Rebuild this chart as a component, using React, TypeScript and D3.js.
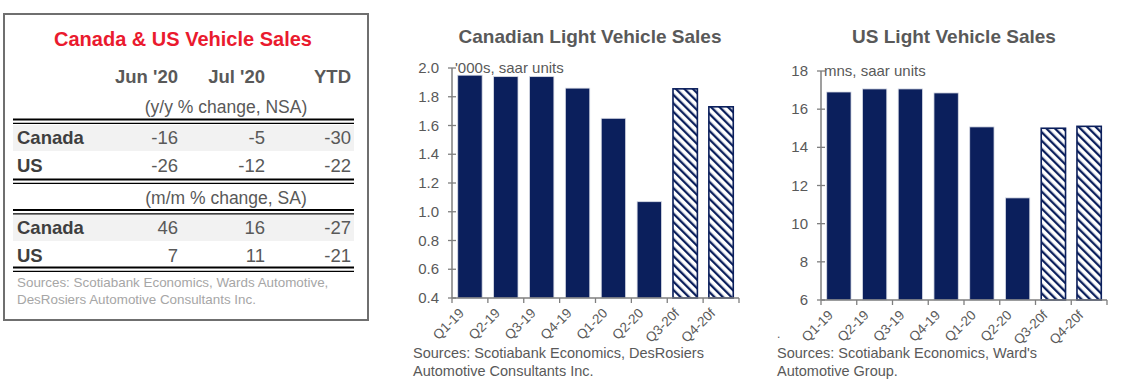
import React from "react";
import * as d3 from "d3";

// ---------- DATA ----------
const quarters = ["Q1-19", "Q2-19", "Q3-19", "Q4-19", "Q1-20", "Q2-20", "Q3-20f", "Q4-20f"];
const forecastFlags = [false, false, false, false, false, false, true, true];
const canadaSales = [1.95, 1.94, 1.94, 1.86, 1.65, 1.07, 1.855, 1.73];
const usSales = [16.9, 17.06, 17.06, 16.85, 15.07, 11.35, 15.0, 15.1];
const canadaTicks = [0.4, 0.6, 0.8, 1.0, 1.2, 1.4, 1.6, 1.8, 2.0];
const usTicks = [6, 8, 10, 12, 14, 16, 18];

const tableColumns = ["Jun '20", "Jul '20", "YTD"];
const tableRegions = ["Canada", "US"];
const yoyValues = [
  [-16, -5, -30],
  [-26, -12, -22],
];
const momValues = [
  [46, 16, -27],
  [7, 11, -21],
];

const NAVY = "#0b1f5c";
const GRAY = "#595959";
const FONT = "'Liberation Sans', Arial, sans-serif";

type ChartProps = {
  id: string;
  title: string;
  titleX: number;
  unit: string;
  values: number[];
  ticks: number[];
  domain: [number, number];
  x0: number;
  x1: number;
  yTop: number;
  yBot: number;
  tickFmt: (v: number) => string;
  sources: string[];
  srcX: number;
  dot?: boolean;
};

function BarChart(p: ChartProps) {
  const x = d3.scaleBand<string>().domain(quarters).range([p.x0, p.x1]).paddingInner(0.32).paddingOuter(0.16);
  const y = d3.scaleLinear().domain(p.domain).range([p.yBot, p.yTop]);
  const bounds = d3.range(quarters.length + 1).map((i) => p.x0 + ((p.x1 - p.x0) * i) / quarters.length);
  const step = (p.x1 - p.x0) / quarters.length;
  return (
    <g>
      <defs>
        <pattern id={p.id + "hatch"} patternUnits="userSpaceOnUse" width={6} height={6} patternTransform="rotate(-45)">
          <rect width={6} height={6} fill="#ffffff" />
          <rect x={0} y={0} width={2.3} height={6} fill={NAVY} />
        </pattern>
      </defs>
      <text x={p.titleX} y={43} textAnchor="middle" fontFamily={FONT} fontWeight="bold" fontSize={19} fill={GRAY}>
        {p.title}
      </text>
      {quarters.map((q, i) => {
        const v = p.values[i];
        const fc = forecastFlags[i];
        return (
          <rect
            key={q}
            x={x(q)!}
            y={y(v)}
            width={x.bandwidth()}
            height={p.yBot - y(v)}
            fill={fc ? `url(#${p.id}hatch)` : NAVY}
            stroke={fc ? NAVY : "#d9dce6"}
            strokeWidth={fc ? 1.6 : 0.8}
          />
        );
      })}
      {/* y axis */}
      <line x1={p.x0} x2={p.x0} y1={p.yTop} y2={p.yBot} stroke="#7f7f7f" strokeWidth={1.5} />
      {p.ticks.map((t) => (
        <g key={t}>
          <line x1={p.x0 - 4} x2={p.x0 + 4} y1={y(t)} y2={y(t)} stroke="#7f7f7f" strokeWidth={1.3} />
          <text x={p.x0 - 13} y={y(t) + 5} textAnchor="end" fontFamily={FONT} fontSize={15} fill={GRAY}>
            {p.tickFmt(t)}
          </text>
        </g>
      ))}
      <text x={p.x0 + 3} y={p.yTop + 5} fontFamily={FONT} fontSize={15} fill={GRAY}>
        {p.unit}
      </text>
      {/* x axis */}
      <line x1={p.x0} x2={p.x1} y1={p.yBot} y2={p.yBot} stroke="#7f7f7f" strokeWidth={1.5} />
      {bounds.map((b, i) => (
        <line key={i} x1={b} x2={b} y1={p.yBot} y2={p.yBot + 5} stroke="#7f7f7f" strokeWidth={1.3} />
      ))}
      {quarters.map((q, i) => {
        const cx = p.x0 + step * (i + 0.5);
        return (
          <text
            key={q}
            transform={`translate(${cx - 5},${p.yBot + 16}) rotate(-45)`}
            textAnchor="end"
            fontFamily={FONT}
            fontSize={13.5}
            fill={GRAY}
          >
            {q}
          </text>
        );
      })}
      {p.dot && (
        <text x={p.srcX} y={338} fontFamily={FONT} fontSize={12} fill={GRAY}>
          .
        </text>
      )}
      {p.sources.map((s, i) => (
        <text key={i} x={p.srcX} y={358 + i * 18} fontFamily={FONT} fontSize={14.5} fill={GRAY}>
          {s}
        </text>
      ))}
    </g>
  );
}

function Table() {
  const colRight = [178, 265, 351];
  const left = 13;
  const right = 354;
  const dbl = (yy: number) => (
    <g>
      <line x1={left} x2={right} y1={yy} y2={yy} stroke="#000" strokeWidth={2} />
      <line x1={left} x2={right} y1={yy + 3.8} y2={yy + 3.8} stroke="#000" strokeWidth={1.3} />
    </g>
  );
  const section = (vals: number[][], top: number) =>
    tableRegions.map((r, ri) => {
      const base = top + 19 + ri * 27.5;
      return (
        <g key={r}>
          {ri === 0 && <rect x={left} y={top} width={right - left} height={26} fill="#f2f2f2" />}
          <text x={17} y={base} fontFamily={FONT} fontWeight="bold" fontSize={18.5} fill="#3f3f3f">
            {r}
          </text>
          {vals[ri].map((v, ci) => (
            <text key={ci} x={colRight[ci]} y={base} textAnchor="end" fontFamily={FONT} fontSize={18.5} fill={GRAY}>
              {v}
            </text>
          ))}
        </g>
      );
    });
  return (
    <g>
      <rect x={4} y={14} width={364} height={306} fill="#fff" stroke="#6f6f6f" strokeWidth={2} />
      <text x={183} y={46} textAnchor="middle" fontFamily={FONT} fontWeight="bold" fontSize={20} fill="#ea1a2e">
        Canada &amp; US Vehicle Sales
      </text>
      {tableColumns.map((c, i) => (
        <text key={c} x={colRight[i]} y={83} textAnchor="end" fontFamily={FONT} fontWeight="bold" fontSize={18.5} fill={GRAY}>
          {c}
        </text>
      ))}
      <text x={226} y={113} textAnchor="middle" fontFamily={FONT} fontSize={17.5} fill={GRAY}>
        (y/y % change, NSA)
      </text>
      {dbl(119.5)}
      {section(yoyValues, 125)}
      {dbl(179.5)}
      <text x={226} y={204} textAnchor="middle" fontFamily={FONT} fontSize={17.5} fill={GRAY}>
        (m/m % change, SA)
      </text>
      {dbl(210)}
      {section(momValues, 215)}
      {dbl(267.5)}
      <text x={17} y={287} fontFamily={FONT} fontSize={13.4} fill="#a6a6a6">
        Sources: Scotiabank Economics, Wards Automotive,
      </text>
      <text x={17} y={304} fontFamily={FONT} fontSize={13.4} fill="#a6a6a6">
        DesRosiers Automotive Consultants Inc.
      </text>
    </g>
  );
}

export default function App() {
  return (
    <svg width={1122} height={391} style={{ position: "absolute", left: 0, top: 0, background: "#fff" }}>
      <rect width={1122} height={391} fill="#fff" />
      <Table />
      <BarChart
        id="ca"
        title="Canadian Light Vehicle Sales"
        titleX={590}
        unit="'000s, saar units"
        values={canadaSales}
        ticks={canadaTicks}
        domain={[0.4, 2.0]}
        x0={452}
        x1={739}
        yTop={68}
        yBot={298}
        tickFmt={(v) => d3.format(".1f")(v)}
        sources={["Sources: Scotiabank Economics, DesRosiers", "Automotive Consultants Inc."]}
        srcX={413}
      />
      <BarChart
        id="us"
        title="US Light Vehicle Sales"
        titleX={954}
        unit="mns, saar units"
        values={usSales}
        ticks={usTicks}
        domain={[6, 18]}
        x0={821}
        x1={1107}
        yTop={71}
        yBot={300}
        tickFmt={(v) => String(v)}
        sources={["Sources: Scotiabank Economics, Ward's", "Automotive Group."]}
        srcX={777}
        dot
      />
    </svg>
  );
}
